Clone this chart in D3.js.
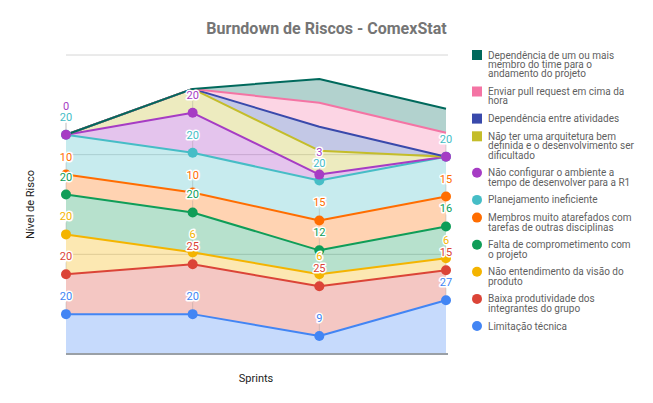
<!DOCTYPE html>
<html>
<head>
<meta charset="utf-8">
<script src="https://cdn.jsdelivr.net/npm/d3@7"></script>
<style>
  html, body { margin: 0; padding: 0; background: #fff; }
  svg { display: block; font-family: Roboto, Arial, sans-serif; }
</style>
</head>
<body>
<svg id="chart" width="653" height="403"></svg>
<script>
// ---- data ----
const categories = ["Sprint 1", "Sprint 2", "Sprint 3", "Sprint 4"];
// series listed bottom (first stacked) to top
const seriesNames = [
  "Limitação técnica",
  "Baixa produtividade dos integrantes do grupo",
  "Não entendimento da visão do produto",
  "Falta de comprometimento com o projeto",
  "Membros muito atarefados com tarefas de outras disciplinas",
  "Planejamento ineficiente",
  "Não configurar o ambiente a tempo de desenvolver para a R1",
  "Não ter uma arquitetura bem definida e o desenvolvimento ser dificultado",
  "Dependência entre atividades",
  "Enviar pull request em cima da hora",
  "Dependência de um ou mais membro do time para o andamento do projeto"
];
const limitacao     = [20, 20, 9, 27];
const baixaProd     = [20, 25, 25, 15];
const naoEntend     = [20, 6, 6, 6];
const faltaComp     = [20, 20, 12, 16];
const membros       = [10, 10, 15, 15];
const planejamento  = [20, 20, 20, 20];
const naoConfigurar = [0, 20, 3, 0];
const arquitetura   = [0, 12, 12, 0];
const depAtividades = [0, 0, 12, 0];
const pullRequest   = [0, 0, 12, 12];
const depMembro     = [0, 0, 12, 12];
const seriesValues = [limitacao, baixaProd, naoEntend, faltaComp, membros,
  planejamento, naoConfigurar, arquitetura, depAtividades, pullRequest, depMembro];
const seriesColors = ["#4285F4", "#DB4437", "#F4B400", "#0F9D58", "#FF6D00",
  "#46BDC6", "#A63CC4", "#C4BD2A", "#3949AB", "#F474A4", "#00695C"];
// series drawn with point markers and value labels
const hasPoints = [true, true, true, true, true, true, true, false, false, false, false];
// [seriesIndex, pointIndex] labels hidden by the chart's collision handling
const hiddenLabels = [[6, 3]];
const yTicks = [0, 50, 100, 150];
const title = "Burndown de Riscos - ComexStat";
const xTitle = "Sprints";
const yTitle = "Nível de Risco";

// ---- chart ----
const svg = d3.select("#chart");
const W = 653, H = 403;
const area = { left: 66, right: 446, top: 55, bottom: 354 };

const x = d3.scalePoint().domain(categories).range([area.left, area.right]);
const y = d3.scaleLinear().domain([0, 150]).range([area.bottom, area.top]);

const rows = categories.map((c, i) => {
  const r = { cat: c };
  seriesNames.forEach((n, s) => r[n] = seriesValues[s][i]);
  return r;
});
const stacked = d3.stack().keys(seriesNames)(rows);

// gridlines
svg.append("g").selectAll("line").data(yTicks.filter(t => t !== 0)).join("line")
  .attr("x1", area.left).attr("x2", area.right + 2)
  .attr("y1", d => y(d)).attr("y2", d => y(d))
  .attr("stroke", "#d6d6d6").attr("stroke-width", 1);

// areas
const areaGen = d3.area()
  .x(d => x(d.data.cat)).y0(d => y(d[0])).y1(d => y(d[1]));
svg.append("g").selectAll("path").data(stacked).join("path")
  .attr("d", areaGen)
  .attr("fill", (d, i) => seriesColors[i])
  .attr("fill-opacity", 0.3);

// baseline
svg.append("line")
  .attr("x1", area.left).attr("x2", area.right + 2)
  .attr("y1", y(0)).attr("y2", y(0))
  .attr("stroke", "#9aa0a6").attr("stroke-width", 2);

// lines
const lineGen = d3.line().x(d => x(d.data.cat)).y(d => y(d[1]));
svg.append("g").selectAll("path").data(stacked).join("path")
  .attr("d", lineGen)
  .attr("fill", "none")
  .attr("stroke", (d, i) => seriesColors[i])
  .attr("stroke-width", 2)
  .attr("stroke-linejoin", "round");

// labels: compute positions with simple stacking avoidance
const labels = [];
categories.forEach((c, pi) => {
  let prevY = null;
  stacked.forEach((s, si) => {
    if (!hasPoints[si]) return;
    if (hiddenLabels.some(h => h[0] === si && h[1] === pi)) return;
    const py = y(s[pi][1]);
    let ly = py - 18;
    if (prevY !== null && prevY - ly < 11) ly = prevY - 11;
    prevY = ly;
    labels.push({ x: x(c), py, ly, text: String(seriesValues[si][pi]), color: seriesColors[si] });
  });
});

// annotation stems
svg.append("g").selectAll("line").data(labels).join("line")
  .attr("x1", d => d.x).attr("x2", d => d.x)
  .attr("y1", d => d.py).attr("y2", d => d.py - 12)
  .attr("stroke", "#999").attr("stroke-opacity", 0.35).attr("stroke-width", 1);

// points
stacked.forEach((s, si) => {
  if (!hasPoints[si]) return;
  svg.append("g").selectAll("circle").data(s).join("circle")
    .attr("cx", d => x(d.data.cat)).attr("cy", d => y(d[1]))
    .attr("r", 5).attr("fill", seriesColors[si]);
});

// value labels
svg.append("g").selectAll("text").data(labels).join("text")
  .attr("x", d => d.x).attr("y", d => d.ly + 4)
  .attr("text-anchor", "middle")
  .attr("font-size", 11)
  .attr("fill", d => d.color)
  .attr("stroke", "#fff").attr("stroke-width", 3)
  .attr("paint-order", "stroke")
  .attr("stroke-linejoin", "round")
  .text(d => d.text);

// title
svg.append("text")
  .attr("x", W / 2).attr("y", 34)
  .attr("text-anchor", "middle")
  .attr("font-size", 16).attr("font-weight", "bold")
  .attr("fill", "#757575")
  .text(title);

// axis titles
svg.append("text")
  .attr("x", (area.left + area.right) / 2).attr("y", 382)
  .attr("text-anchor", "middle").attr("font-size", 11).attr("fill", "#222")
  .text(xTitle);
svg.append("text")
  .attr("transform", `translate(34,${(area.top + area.bottom) / 2}) rotate(-90)`)
  .attr("text-anchor", "middle").attr("font-size", 11).attr("fill", "#222")
  .text(yTitle);

// legend
const legendFont = 10;
const legend = svg.append("g");
const measurer = svg.append("text").attr("font-size", legendFont).attr("visibility", "hidden");
function wrap(str, maxW) {
  const words = str.split(" ");
  const lines = [];
  let cur = "";
  words.forEach(w => {
    const test = cur ? cur + " " + w : w;
    measurer.text(test);
    if (cur && measurer.node().getComputedTextLength() > maxW) {
      lines.push(cur); cur = w;
    } else cur = test;
  });
  if (cur) lines.push(cur);
  return lines;
}
const lineH = 9.4, gap = 8.3;
let cy = 55;
for (let si = seriesNames.length - 1; si >= 0; si--) {
  const lines = wrap(seriesNames[si], 148);
  if (hasPoints[si]) {
    legend.append("circle").attr("cx", 477).attr("cy", cy).attr("r", 5)
      .attr("fill", seriesColors[si]);
  } else {
    legend.append("rect").attr("x", 472).attr("y", cy - 5).attr("width", 10).attr("height", 10)
      .attr("fill", seriesColors[si]);
  }
  const t = legend.append("text").attr("font-size", legendFont).attr("fill", "#5f5f5f");
  lines.forEach((ln, li) => {
    t.append("tspan").attr("x", 488).attr("y", cy + 3.5 + li * lineH).text(ln);
  });
  cy += lines.length * lineH + gap;
}
measurer.remove();
</script>
</body>
</html>
